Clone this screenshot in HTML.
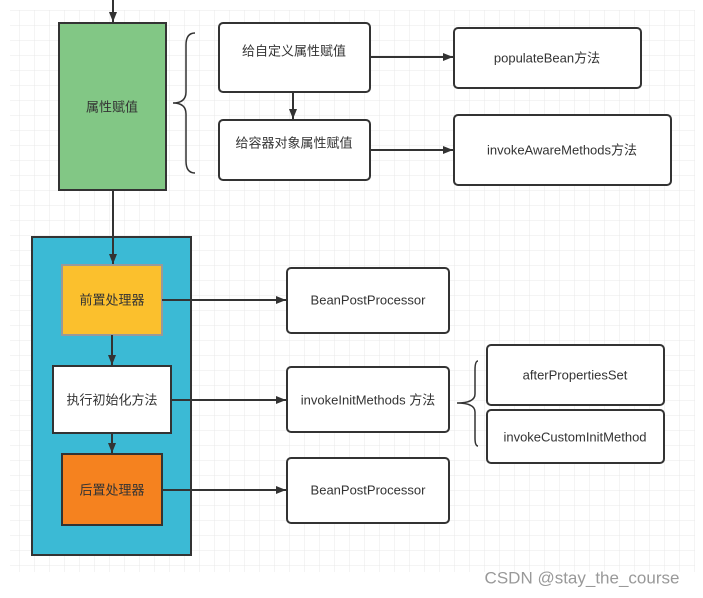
<!DOCTYPE html>
<html><head><meta charset="utf-8"><style>
html,body{margin:0;padding:0;background:#fff;}
svg{display:block;}
text{font-family:"Liberation Sans","Noto Sans CJK SC",sans-serif;font-size:13px;fill:#333;text-anchor:middle;dominant-baseline:central;}
</style></head><body>
<svg width="703" height="598" viewBox="0 0 703 598" xmlns="http://www.w3.org/2000/svg">
<defs>
<pattern id="g" x="4" y="10" width="15" height="15" patternUnits="userSpaceOnUse">
<path d="M0 0H15M0 0V15" stroke="#e8e8e8" stroke-width="1" fill="none"/>
</pattern>
<marker id="a" markerWidth="10" markerHeight="8" refX="10" refY="4" orient="auto" markerUnits="userSpaceOnUse">
<path d="M0 0L10 4L0 8z" fill="#333"/>
</marker>
</defs>
<rect x="10" y="10" width="685" height="562" fill="url(#g)"/>
<g stroke="#333" stroke-width="2" fill="none">
<line x1="113" y1="0" x2="113" y2="22" marker-end="url(#a)"/>
<line x1="113" y1="190" x2="113" y2="264" marker-end="url(#a)"/>
</g>
<rect x="59" y="23" width="107" height="167" fill="#82c785" stroke="#333" stroke-width="2"/>
<text x="112" y="107">属性赋值</text>
<path d="M195 33 Q186 33 186 45 V92 Q186 103 173 103 Q186 103 186 114 V161 Q186 173 195 173" stroke="#333" stroke-width="1.5" fill="none"/>
<rect x="219" y="23" width="151" height="69" rx="4" fill="#fff" stroke="#333" stroke-width="2"/>
<text x="294" y="51">给自定义属性赋值</text>
<rect x="219" y="120" width="151" height="60" rx="4" fill="#fff" stroke="#333" stroke-width="2"/>
<text x="294" y="143">给容器对象属性赋值</text>
<g stroke="#333" stroke-width="2" fill="none">
<line x1="293" y1="92" x2="293" y2="119" marker-end="url(#a)"/>
<line x1="370" y1="57" x2="453" y2="57" marker-end="url(#a)"/>
<line x1="370" y1="150" x2="453" y2="150" marker-end="url(#a)"/>
</g>
<rect x="454" y="28" width="187" height="60" rx="4" fill="#fff" stroke="#333" stroke-width="2"/>
<text x="547" y="58">populateBean方法</text>
<rect x="454" y="115" width="217" height="70" rx="4" fill="#fff" stroke="#333" stroke-width="2"/>
<text x="562" y="150">invokeAwareMethods方法</text>
<rect x="32" y="237" width="159" height="318" fill="#3bbad5" stroke="#333" stroke-width="2"/>
<line x1="113" y1="237" x2="113" y2="264" stroke="#333" stroke-width="2" marker-end="url(#a)"/>
<rect x="62" y="265" width="100" height="70" fill="#fbc02d" stroke="#999" stroke-width="2"/>
<text x="112" y="300">前置处理器</text>
<rect x="53" y="366" width="118" height="67" fill="#fff" stroke="#333" stroke-width="2"/>
<text x="112" y="400">执行初始化方法</text>
<rect x="62" y="454" width="100" height="71" fill="#f5821f" stroke="#333" stroke-width="2"/>
<text x="112" y="490">后置处理器</text>
<g stroke="#333" stroke-width="2" fill="none">
<line x1="112" y1="335" x2="112" y2="365" marker-end="url(#a)"/>
<line x1="112" y1="433" x2="112" y2="453" marker-end="url(#a)"/>
<line x1="162" y1="300" x2="286" y2="300" marker-end="url(#a)"/>
<line x1="171" y1="400" x2="286" y2="400" marker-end="url(#a)"/>
<line x1="162" y1="490" x2="286" y2="490" marker-end="url(#a)"/>
</g>
<rect x="287" y="268" width="162" height="65" rx="4" fill="#fff" stroke="#333" stroke-width="2"/>
<text x="368" y="300">BeanPostProcessor</text>
<rect x="287" y="367" width="162" height="65" rx="4" fill="#fff" stroke="#333" stroke-width="2"/>
<text x="368" y="400">invokeInitMethods 方法</text>
<rect x="287" y="458" width="162" height="65" rx="4" fill="#fff" stroke="#333" stroke-width="2"/>
<text x="368" y="490">BeanPostProcessor</text>
<path d="M478 361 Q475 361 475 370 V394 Q475 403 457 403 Q475 403 475 412 V438 Q475 446 478 446" stroke="#333" stroke-width="1.5" fill="none"/>
<rect x="487" y="345" width="177" height="60" rx="4" fill="#fff" stroke="#333" stroke-width="2"/>
<text x="575" y="375">afterPropertiesSet</text>
<rect x="487" y="410" width="177" height="53" rx="4" fill="#fff" stroke="#333" stroke-width="2"/>
<text x="575" y="437">invokeCustomInitMethod</text>
<text x="582" y="578" style="font-size:17px;fill:#999;">CSDN @stay_the_course</text>
</svg>
</body></html>
